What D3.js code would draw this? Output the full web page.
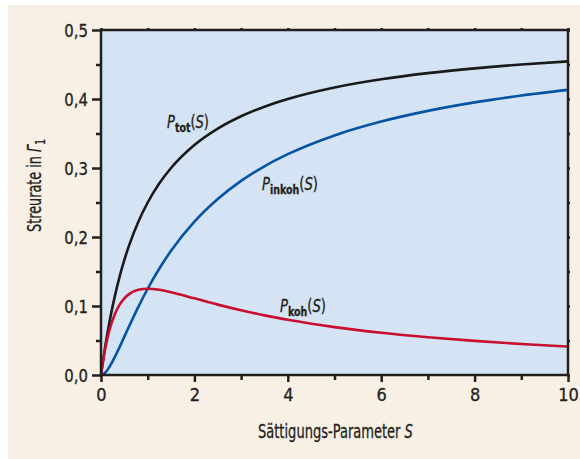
<!DOCTYPE html>
<html><head><meta charset="utf-8">
<script src="https://cdn.jsdelivr.net/npm/d3@7"></script>
<style>
html,body{margin:0;padding:0;background:#fff;}
svg{display:block;}
text{font-family:"DejaVu Sans Condensed","Liberation Sans Narrow","Arial Narrow",sans-serif;fill:#231f20;stroke:#231f20;stroke-width:0.3px;}
</style></head>
<body>
<svg id="c" width="580" height="459"></svg>
<script>
// Data
const sValues   = [0, 0.02, 0.05, 0.1, 0.15, 0.2, 0.3, 0.4, 0.5, 0.6, 0.8, 1, 1.25, 1.5, 2, 2.5, 3, 3.5, 4, 5, 6, 7, 8, 9, 10];
const pTot      = [0, 0.0098, 0.0238, 0.0455, 0.0652, 0.0833, 0.1154, 0.1429, 0.1667, 0.1875, 0.2222, 0.25, 0.2778, 0.3, 0.3333, 0.3571, 0.375, 0.3889, 0.4, 0.4167, 0.4286, 0.4375, 0.4444, 0.45, 0.4545];
const pKoh      = [0, 0.0096, 0.0227, 0.0413, 0.0567, 0.0694, 0.0888, 0.1020, 0.1111, 0.1172, 0.1235, 0.125, 0.1235, 0.12, 0.1111, 0.1020, 0.0938, 0.0864, 0.08, 0.0694, 0.0612, 0.0547, 0.0494, 0.045, 0.0413];
const pInkoh    = [0, 0.0002, 0.0011, 0.0041, 0.0085, 0.0139, 0.0266, 0.0408, 0.0556, 0.0703, 0.0988, 0.125, 0.1543, 0.18, 0.2222, 0.2551, 0.2813, 0.3025, 0.32, 0.3472, 0.3673, 0.3828, 0.3951, 0.405, 0.4132];
const xMajorTicks = [0, 2, 4, 6, 8, 10];
const xMinorTicks = [1, 3, 5, 7, 9];
const yMajorTicks = [0, 0.1, 0.2, 0.3, 0.4, 0.5];
const yMinorTicks = [0.05, 0.15, 0.25, 0.35, 0.45];
const xTitle = "Sättigungs-Parameter ";
const yTitle = "Streurate in ";

const svg = d3.select("#c");
svg.append("rect").attr("x", 8).attr("y", 5).attr("width", 572).attr("height", 454).attr("fill", "#f9f0e5");

const L = 101, R = 568, T = 30, B = 375;
const x = d3.scaleLinear().domain([0, 10]).range([L, R]);
const y = d3.scaleLinear().domain([0, 0.5]).range([B, T]);

svg.append("rect").attr("x", L).attr("y", T).attr("width", R - L).attr("height", B - T).attr("fill", "#d4e4f4");

const fmt = d => d3.format(".1f")(d).replace(".", ",");

// horizontally compress a text block to a target width, anchored at its left edge
function fitWidth(g, target) {
  const bb = g.node().getBBox();
  const k = target / bb.width;
  g.attr("transform", `translate(${bb.x},0) scale(${k},1) translate(${-bb.x},0)`);
}

// axes
const gL = svg.append("g").attr("transform", `translate(${L},0)`)
  .call(d3.axisLeft(y).tickValues(yMajorTicks).tickSize(9).tickPadding(4).tickFormat(fmt));
const gLm = svg.append("g").attr("transform", `translate(${L},0)`)
  .call(d3.axisLeft(y).tickValues(yMinorTicks).tickSize(5).tickFormat(""));
const gB = svg.append("g").attr("transform", `translate(0,${B})`)
  .call(d3.axisBottom(x).tickValues(xMajorTicks).tickSize(7).tickPadding(6).tickFormat(d3.format("d")));
const gBm = svg.append("g").attr("transform", `translate(0,${B})`)
  .call(d3.axisBottom(x).tickValues(xMinorTicks).tickSize(5).tickFormat(""));
const gT = svg.append("g").attr("transform", `translate(0,${T})`)
  .call(d3.axisTop(x).tickValues(xMajorTicks.concat(xMinorTicks)).tickSize(2).tickFormat(""));
const gR = svg.append("g").attr("transform", `translate(${R},0)`)
  .call(d3.axisRight(y).tickValues(yMajorTicks.concat(yMinorTicks)).tickSize(2).tickFormat(""));
[gL, gLm, gB, gBm, gT, gR].forEach(g => {
  g.select(".domain").remove();
  g.selectAll("line").attr("stroke", "#231f20").attr("stroke-width", 2.5);
  g.selectAll("text").attr("font-size", 18).attr("fill", "#231f20")
    .style("font-family", '"DejaVu Sans Condensed","Liberation Sans Narrow",sans-serif');
});
gL.selectAll("text").attr("transform", "scale(0.92,1)").attr("x", -13 / 0.92).attr("dy", "0.36em");

// curves
const line = arr => d3.line().x((d, i) => x(sValues[i])).y(d => y(d)).curve(d3.curveMonotoneX)(arr);
svg.append("clipPath").attr("id", "pc").append("rect")
  .attr("x", L).attr("y", T).attr("width", R - L).attr("height", B - T);
const curves = svg.append("g").attr("clip-path", "url(#pc)");
curves.append("path").attr("d", line(pTot)).attr("fill", "none").attr("stroke", "#1a1a1a").attr("stroke-width", 2.6);
curves.append("path").attr("d", line(pInkoh)).attr("fill", "none").attr("stroke", "#0652a3").attr("stroke-width", 2.6);
curves.append("path").attr("d", line(pKoh)).attr("fill", "none").attr("stroke", "#c8102e").attr("stroke-width", 2.6);

// frame
svg.append("rect").attr("x", L).attr("y", T).attr("width", R - L).attr("height", B - T)
  .attr("fill", "none").attr("stroke", "#231f20").attr("stroke-width", 2.5);

// curve labels
function curveLabel(px, py, sub, w) {
  const g = svg.append("g");
  const t = g.append("text").attr("x", px).attr("y", py).attr("font-size", 18);
  t.append("tspan").attr("font-style", "italic").text("P");
  t.append("tspan").attr("font-weight", "bold").attr("font-size", 13).attr("dy", 4).text(sub);
  t.append("tspan").attr("dy", -4).text("(");
  t.append("tspan").attr("font-style", "italic").text("S");
  t.append("tspan").text(")");
  fitWidth(g, w);
}
curveLabel(167, 128, "tot", 42);
curveLabel(262, 190, "inkoh", 56);
curveLabel(280, 312, "koh", 46);

// axis titles
const xg = svg.append("g");
const xt = xg.append("text").attr("x", 258).attr("y", 438).attr("font-size", 20);
xt.append("tspan").text(xTitle);
xt.append("tspan").attr("font-style", "italic").text("S");
fitWidth(xg, 155);

const yg = svg.append("g").attr("transform", "translate(41,232) rotate(-90)");
const yi = yg.append("g");
const yt = yi.append("text").attr("x", 0).attr("y", 0).attr("font-size", 20);
yt.append("tspan").text(yTitle);
yt.append("tspan").attr("font-style", "italic").text("Γ");
yt.append("tspan").attr("font-size", 14).attr("dy", 4).text("1");
fitWidth(yi, 93);
</script>
</body></html>
